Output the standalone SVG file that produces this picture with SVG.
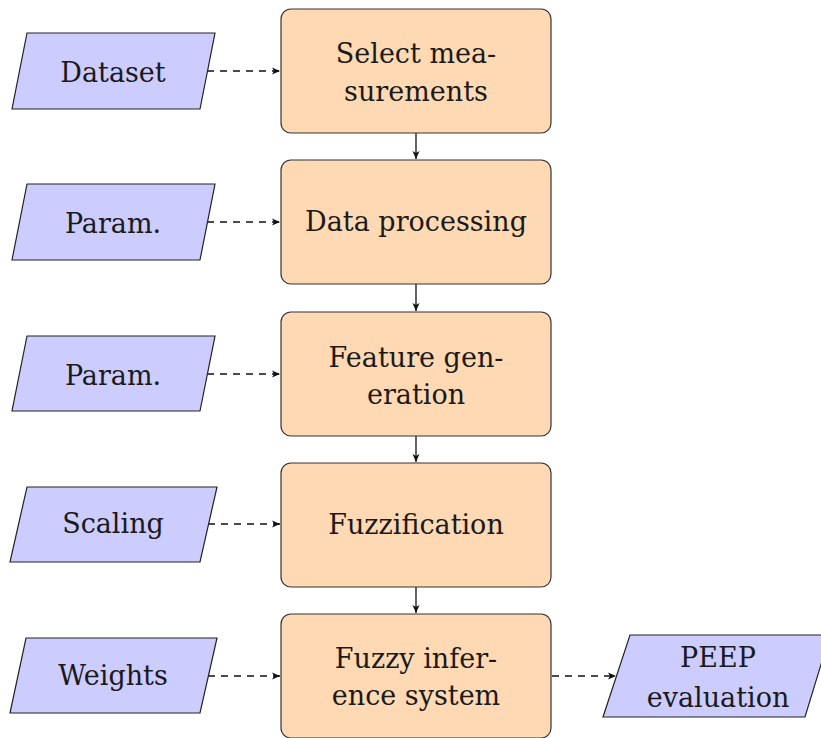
<svg xmlns="http://www.w3.org/2000/svg" width="821" height="738" viewBox="0 0 821 738">
<style>
.proc{fill:#FFD9B3;stroke:#333;stroke-width:1.2}
.io{fill:#CCCCFF;stroke:#222;stroke-width:1.2}
text{font-family:"DejaVu Serif",serif;font-size:27px;fill:#1a1a1a;text-anchor:middle}
.solid{stroke:#111;stroke-width:1.3;fill:none}
.dash{stroke:#111;stroke-width:1.3;fill:none;stroke-dasharray:7 6}
</style>
<defs>
<marker id="ah" markerWidth="10" markerHeight="10" refX="8" refY="4" orient="auto" markerUnits="userSpaceOnUse">
<path d="M0,0.5 L8,4 L0,7.5 L2,4 Z" fill="#111"/>
</marker>
</defs>
<rect width="821" height="738" fill="#fff"/>
<g id="connectors">
<line class="solid" x1="416" y1="133" x2="416" y2="159" marker-end="url(#ah)"/>
<line class="solid" x1="416" y1="284" x2="416" y2="311" marker-end="url(#ah)"/>
<line class="solid" x1="416" y1="436" x2="416" y2="462" marker-end="url(#ah)"/>
<line class="solid" x1="416" y1="587" x2="416" y2="613" marker-end="url(#ah)"/>
<line class="dash" x1="207" y1="71" x2="280" y2="71" marker-end="url(#ah)"/>
<line class="dash" x1="207" y1="222" x2="280" y2="222" marker-end="url(#ah)"/>
<line class="dash" x1="207" y1="374" x2="280" y2="374" marker-end="url(#ah)"/>
<line class="dash" x1="208" y1="524" x2="280" y2="524" marker-end="url(#ah)"/>
<line class="dash" x1="208" y1="676" x2="280" y2="676" marker-end="url(#ah)"/>
<line class="dash" x1="552" y1="676" x2="616" y2="676" marker-end="url(#ah)"/>
</g>
<g id="select">
<rect class="proc" x="281" y="9" width="270" height="124" rx="10"/>
<text x="416" y="63">Select mea-</text>
<text x="416" y="101">surements</text>
</g>
<g id="processing">
<rect class="proc" x="281" y="160" width="270" height="124" rx="10"/>
<text x="416" y="231">Data processing</text>
</g>
<g id="features">
<rect class="proc" x="281" y="312" width="270" height="124" rx="10"/>
<text x="416" y="367">Feature gen-</text>
<text x="416" y="404">eration</text>
</g>
<g id="fuzzification">
<rect class="proc" x="281" y="463" width="270" height="124" rx="10"/>
<text x="416" y="534">Fuzzification</text>
</g>
<g id="fis">
<rect class="proc" x="281" y="614" width="270" height="124" rx="10"/>
<text x="416" y="668">Fuzzy infer-</text>
<text x="416" y="705">ence system</text>
</g>
<g id="dataset">
<polygon class="io" points="27,33 215,33 200,109 12,109"/>
<text x="113" y="82">Dataset</text>
</g>
<g id="param1">
<polygon class="io" points="27,184 215,184 200,260 12,260"/>
<text x="113" y="233">Param.</text>
</g>
<g id="param2">
<polygon class="io" points="27,336 215,336 200,411 12,411"/>
<text x="113" y="385">Param.</text>
</g>
<g id="scaling">
<polygon class="io" points="27,487 217,487 200,562 10,562"/>
<text x="113" y="533">Scaling</text>
</g>
<g id="weights">
<polygon class="io" points="26,638 217,638 200,713 10,713"/>
<text x="113" y="685">Weights</text>
</g>
<g id="peep">
<polygon class="io" points="630,635 830,635 805,717 603,717"/>
<text x="718" y="667">PEEP</text>
<text x="718" y="707">evaluation</text>
</g>
</svg>
